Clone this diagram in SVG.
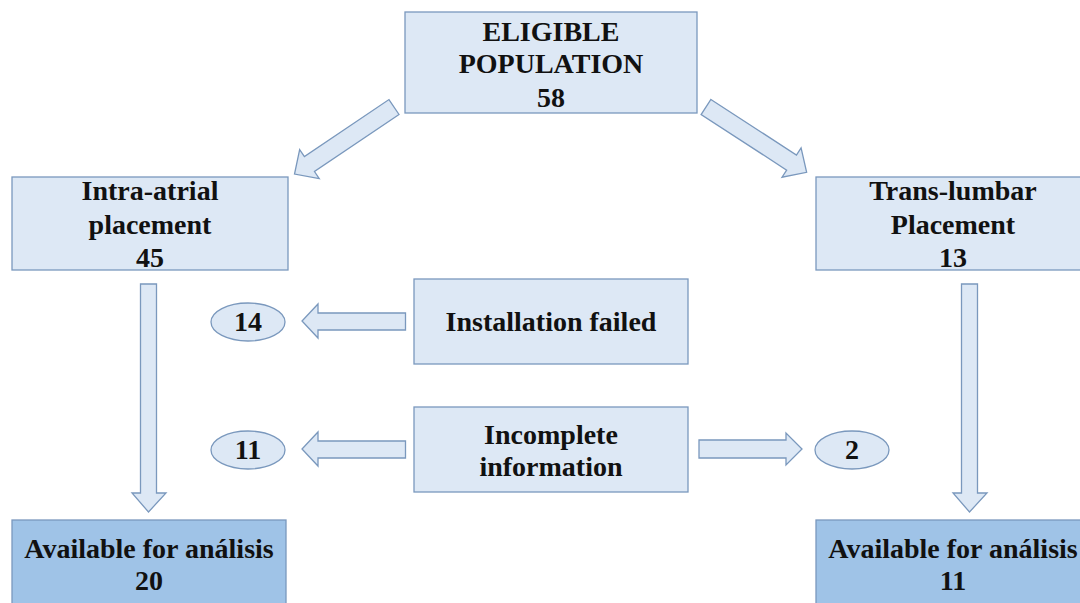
<svg xmlns="http://www.w3.org/2000/svg" width="1080" height="603" viewBox="0 0 1080 603">
<style>
.box{fill:#dde8f5;stroke:#7a98bd;stroke-width:1.3}
.dark{fill:#9fc3e7;stroke:#7a98bd;stroke-width:1.3}
.arr{fill:#dde8f5;stroke:#7a98bd;stroke-width:1.3;stroke-linejoin:miter}
text{font-family:"Liberation Serif","Times New Roman",serif;font-weight:bold;font-size:28px;fill:#111;text-anchor:middle}
</style>
<defs>
<polygon id="a120" points="0,-9 102,-9 102,-17.5 120,0 102,17.5 102,9 0,9"/>
</defs>
<rect width="1080" height="603" fill="#ffffff"/>
<g id="connectors">
<use href="#a120" class="arr" transform="translate(394,107) rotate(146)"/>
<use href="#a120" class="arr" transform="translate(706,107) rotate(33)"/>
<polygon class="arr" points="140.5,284 156.5,284 156.5,493 166,493 148.5,512 132,493 140.5,493"/>
<polygon class="arr" points="961.5,284 977.5,284 977.5,493 987,493 969.5,512 953,493 961.5,493"/>
<polygon class="arr" points="405.5,313 318,313 318,304 302,321 318,338 318,330 405.5,330"/>
<polygon class="arr" points="405.5,441 318,441 318,432 302,449 318,466 318,458 405.5,458"/>
<polygon class="arr" points="699,440 786,440 786,433 802,449 786,465 786,458 699,458"/>
</g>
<g id="eligible">
<rect class="box" x="405" y="12" width="292" height="101"/>
<text x="551" y="41">ELIGIBLE</text>
<text x="551" y="73">POPULATION</text>
<text x="551" y="107">58</text>
</g>
<g id="intra">
<rect class="box" x="12" y="177" width="276" height="93"/>
<text x="150" y="200">Intra-atrial</text>
<text x="150" y="234">placement</text>
<text x="150" y="267">45</text>
</g>
<g id="trans">
<rect class="box" x="816" y="177" width="274" height="93"/>
<text x="953" y="200">Trans-lumbar</text>
<text x="953" y="234">Placement</text>
<text x="953" y="267">13</text>
</g>
<g id="failed">
<rect class="box" x="414" y="279" width="274" height="85"/>
<text x="551" y="331">Installation failed</text>
</g>
<g id="incomplete">
<rect class="box" x="414" y="407" width="274" height="85"/>
<text x="551" y="444">Incomplete</text>
<text x="551" y="476">information</text>
</g>
<g id="n14">
<ellipse class="box" cx="248" cy="322" rx="37" ry="19"/>
<text x="248" y="331">14</text>
</g>
<g id="n11">
<ellipse class="box" cx="248" cy="450" rx="37" ry="19"/>
<text x="248" y="459">11</text>
</g>
<g id="n2">
<ellipse class="box" cx="852" cy="450" rx="37" ry="19"/>
<text x="852" y="459">2</text>
</g>
<g id="avail-left">
<rect class="dark" x="12" y="520" width="274" height="90"/>
<text x="149" y="558">Available for análisis</text>
<text x="149" y="590">20</text>
</g>
<g id="avail-right">
<rect class="dark" x="816" y="520" width="274" height="90"/>
<text x="953" y="558">Available for análisis</text>
<text x="953" y="590">11</text>
</g>
</svg>
